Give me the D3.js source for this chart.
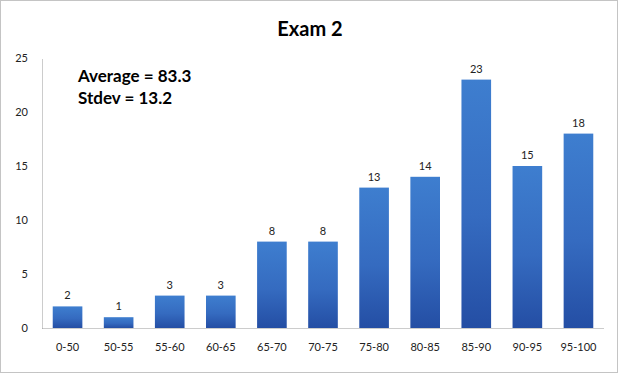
<!DOCTYPE html>
<html>
<head>
<meta charset="utf-8">
<script src="https://cdn.jsdelivr.net/npm/d3@7"></script>
<style>
  body { margin: 0; background: #fff; }
  svg { display: block; font-family: Lato, "Open Sans", sans-serif; }
</style>
</head>
<body>
<svg id="chart"></svg>
<script>
const categories = ['0-50', '50-55', '55-60', '60-65', '65-70', '70-75', '75-80', '80-85', '85-90', '90-95', '95-100']
const counts = [2, 1, 3, 3, 8, 8, 13, 14, 23, 15, 18]
const yTicks = [0, 5, 10, 15, 20, 25]
const title = 'Exam 2'
const notes = ['Average = 83.3', 'Stdev = 13.2']

const width = 618, height = 373
const margin = {top: 58, right: 14, bottom: 45, left: 42}

const svg = d3.select('#chart')
  .attr('width', width)
  .attr('height', height)

// outer frame
svg.append('rect')
  .attr('x', 0.5).attr('y', 0.5)
  .attr('width', width - 1).attr('height', height - 1)
  .attr('fill', '#fff')
  .attr('stroke', '#888')
  .attr('stroke-dasharray', '1,1')

const grad = svg.append('defs').append('linearGradient')
  .attr('id', 'barGrad')
  .attr('x1', 0).attr('y1', 0).attr('x2', 0).attr('y2', 1)
grad.append('stop').attr('offset', '0%').attr('stop-color', '#3e7ecf')
grad.append('stop').attr('offset', '55%').attr('stop-color', '#356bc0')
grad.append('stop').attr('offset', '100%').attr('stop-color', '#244ea4')

const x = d3.scaleBand()
  .domain(categories)
  .range([margin.left, width - margin.right])
  .paddingInner(0.42)
  .paddingOuter(0.21)

const y = d3.scaleLinear()
  .domain([0, 25])
  .range([height - margin.bottom, margin.top])

// title
svg.append('text')
  .attr('x', 310)
  .attr('y', 36)
  .attr('text-anchor', 'middle')
  .style('font-size', '20px')
  .style('font-weight', 'bold')
  .attr('fill', '#000')
  .text(title)

// bars
svg.append('g')
  .selectAll('rect')
  .data(counts)
  .join('rect')
  .attr('x', (d, i) => x(categories[i]))
  .attr('y', d => y(d))
  .attr('width', x.bandwidth())
  .attr('height', d => y(0) - y(d))
  .attr('fill', 'url(#barGrad)')

// value labels
svg.append('g')
  .selectAll('text')
  .data(counts)
  .join('text')
  .attr('x', (d, i) => x(categories[i]) + x.bandwidth() / 2)
  .attr('y', d => y(d) - 7)
  .attr('text-anchor', 'middle')
  .style('font-size', '11px')
  .attr('fill', '#222')
  .text(d => d)

// y axis
const yAxis = svg.append('g')
  .attr('transform', `translate(${margin.left},0)`)
  .call(d3.axisLeft(y).tickValues(yTicks).tickSize(0).tickPadding(14))
yAxis.select('.domain')
  .attr('stroke', '#999')
  .attr('stroke-dasharray', '1,1')
yAxis.selectAll('text')
  .style('font-size', '11px')
  .style('font-family', 'Lato, sans-serif')
  .attr('fill', '#222')

// x axis
const xAxis = svg.append('g')
  .attr('transform', `translate(0,${y(0)})`)
  .call(d3.axisBottom(x).tickSize(0).tickPadding(15))
xAxis.select('.domain')
  .attr('stroke', '#999')
  .attr('stroke-dasharray', '1,1')
xAxis.selectAll('text')
  .style('font-size', '11px')
  .style('font-family', 'Lato, sans-serif')
  .attr('fill', '#222')

// stats annotation
svg.append('g')
  .selectAll('text')
  .data(notes)
  .join('text')
  .attr('x', 78)
  .attr('y', (d, i) => 82 + i * 22)
  .style('font-size', '17px')
  .style('font-weight', 'bold')
  .attr('fill', '#000')
  .text(d => d)
</script>
</body>
</html>
